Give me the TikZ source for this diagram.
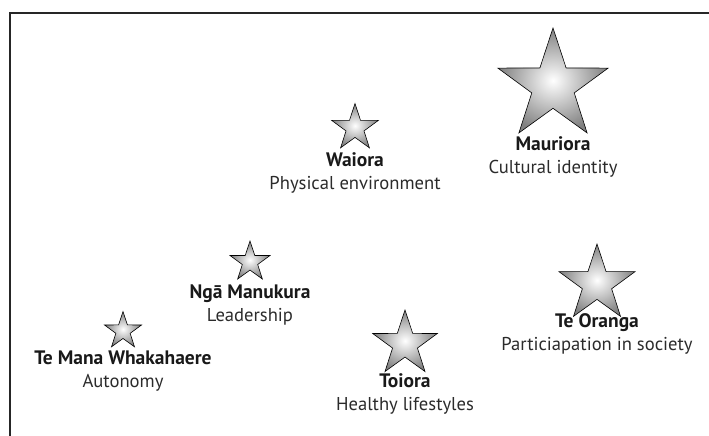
\documentclass[tikz,border=0pt]{standalone}
\usepackage{fontspec}
\setmainfont{PT Sans}
\usetikzlibrary{positioning,shapes.geometric}
\definecolor{framegray}{HTML}{262626}
\definecolor{labelgray}{HTML}{2B2B2B}
\tikzset{
  goldstar/.style={star, star points=5, star point ratio=2.6, draw=black,
    line width=0.6pt, inner sep=0pt, minimum size=#1,
    shading=radial, inner color=white, outer color=black!50},
  pillar/.style={font=\fontsize{19.5}{22}\selectfont\bfseries, text=black!90,
    inner sep=0pt, text height=13pt, text depth=4pt},
  meaning/.style={font=\fontsize{18.6}{22}\selectfont, text=labelgray,
    inner sep=0pt, text height=13pt, text depth=4pt}
}

\begin{document}
\begin{tikzpicture}[x=1pt, y=-1pt, node distance=6pt]
  \useasboundingbox (0,0) rectangle (709,436);
  % Frame
  \draw[line width=2.5pt, framegray] (709,13) -- (10,13) -- (10,436);
  % Stars
  \node[goldstar=116pt] (mauriora) at (553,86) {};
  \node[goldstar=49pt] (waiora) at (355,128) {};
  \node[goldstar=42pt] (manukura) at (250,262) {};
  \node[goldstar=39pt] (mana) at (123,331) {};
  \node[goldstar=68pt] (toiora) at (405,344) {};
  \node[goldstar=80pt] (oranga) at (597,284) {};
  % Labels
  \node[pillar] (mauriora-name) at (553,146) {Mauriora};
  \node[meaning, below=of mauriora-name] (mauriora-text) {Cultural identity};
  \node[pillar] (waiora-name) at (355,162) {Waiora};
  \node[meaning, below=of waiora-name] (waiora-text) {Physical environment};
  \node[pillar] (manukura-name) at (250,294) {Ngā Manukura};
  \node[meaning, below=of manukura-name] (manukura-text) {Leadership};
  \node[pillar] (mana-name) at (123,360) {Te Mana Whakahaere};
  \node[meaning, below=of mana-name] (mana-text) {Autonomy};
  \node[pillar] (toiora-name) at (405,383) {Toiora};
  \node[meaning, below=of toiora-name] (toiora-text) {Healthy lifestyles};
  \node[pillar] (oranga-name) at (597,323) {Te Oranga};
  \node[meaning, below=of oranga-name] (oranga-text) {Particiapation in society};
\end{tikzpicture}
\end{document}
